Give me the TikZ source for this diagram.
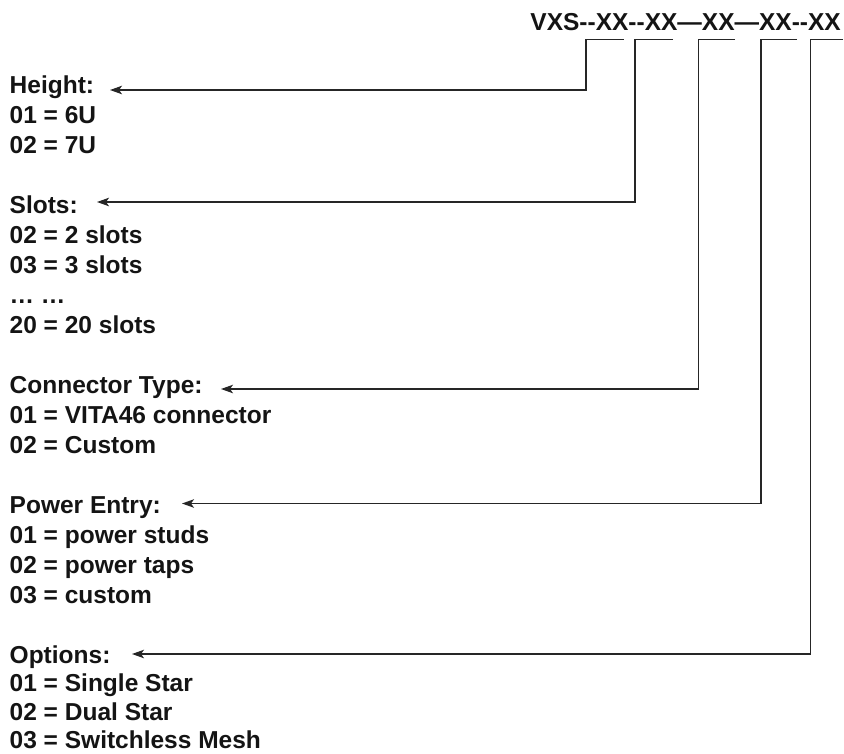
\documentclass[tikz,border=0pt]{standalone}
\usepackage{fontspec}
\setmainfont{Liberation Sans}
\usetikzlibrary{arrows.meta,calc}
\begin{document}
\begin{tikzpicture}[x=1pt,y=-1pt,
  txt/.style={anchor=base west, inner sep=0pt, font=\bfseries\fontsize{24.5}{29}\selectfont, text=black!92},
  ttl/.style={anchor=base east, inner sep=0pt, font=\bfseries\fontsize{24.5}{29}\selectfont, text=black!92},
  link/.style={draw=black!85, line width=1.4pt, -{Stealth[length=12pt,width=8.5pt,inset=3pt]}}
]
\useasboundingbox (0,0) rectangle (844,753);

% ---- title ----
\node[ttl] (title) at (841,30) {VXS-{}-XX-{}-XX—XX—XX-{}-XX};

% ---- labels (baseline grid 93 + 30k) ----
\node[txt] (hH) at (9.5,93)  {Height:};
\node[txt] (h1) at (9.5,123) {01 = 6U};
\node[txt] (h2) at (9.5,153) {02 = 7U};

\node[txt] (sS) at (9.5,213) {Slots:};
\node[txt] (s1) at (9.5,243) {02 = 2 slots};
\node[txt] (s2) at (9.5,273) {03 = 3 slots};
\node[txt] (s3) at (9.5,303) {… …};
\node[txt] (s4) at (9.5,333) {20 = 20 slots};

\node[txt] (cC) at (9.5,393) {Connector Type:};
\node[txt] (c1) at (9.5,423) {01 = VITA46 connector};
\node[txt] (c2) at (9.5,453) {02 = Custom};

\node[txt] (pP) at (9.5,513) {Power Entry:};
\node[txt] (p1) at (9.5,543) {01 = power studs};
\node[txt] (p2) at (9.5,573) {02 = power taps};
\node[txt] (p3) at (9.5,603) {03 = custom};

\node[txt] (oO) at (9.5,663) {Options:};
\node[txt] (o1) at (9.5,691.5) {01 = Single Star};
\node[txt] (o2) at (9.5,720) {02 = Dual Star};
\node[txt] (o3) at (9.5,748) {03 = Switchless Mesh};

% ---- connector coordinates ----
\coordinate (t1r) at (623.5,39.5); \coordinate (t1l) at (586,39.5);
\coordinate (t2r) at (673,39.5);   \coordinate (t2l) at (635,39.5);
\coordinate (t3r) at (735,39.5);   \coordinate (t3l) at (698.5,39.5);
\coordinate (t4r) at (797,39.5);   \coordinate (t4l) at (761,39.5);
\coordinate (t5r) at (843,39.5);   \coordinate (t5l) at (810.5,39.5);

\coordinate (aH) at (110,90);
\coordinate (aS) at (97,202);
\coordinate (aC) at (221,389);
\coordinate (aP) at (182,503.5);
\coordinate (aO) at (132,654);

\draw[link] (t1r) -- (t1l) |- (aH);
\draw[link] (t2r) -- (t2l) |- (aS);
\draw[link] (t3r) -- (t3l) |- (aC);
\draw[link] (t4r) -- (t4l) |- (aP);
\draw[link] (t5r) -- (t5l) |- (aO);
\end{tikzpicture}
\end{document}
